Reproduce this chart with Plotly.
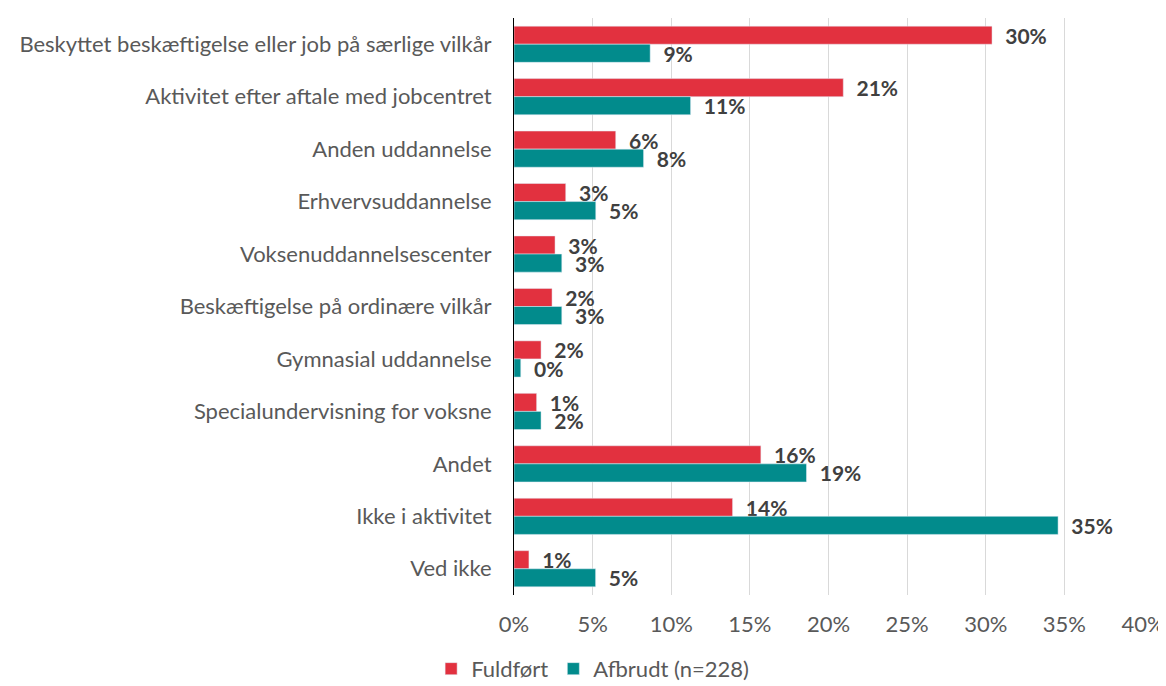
import plotly.graph_objects as go

categories = [
    "Beskyttet beskæftigelse eller job på særlige vilkår",
    "Aktivitet efter aftale med jobcentret",
    "Anden uddannelse",
    "Erhvervsuddannelse",
    "Voksenuddannelsescenter",
    "Beskæftigelse på ordinære vilkår",
    "Gymnasial uddannelse",
    "Specialundervisning for voksne",
    "Andet",
    "Ikke i aktivitet",
    "Ved ikke",
]
fuldfoert = [0.304, 0.2094, 0.0647, 0.0329, 0.0261, 0.0242, 0.0172, 0.0144, 0.157, 0.139, 0.0095]
afbrudt = [0.0866, 0.1123, 0.0824, 0.052, 0.0304, 0.0304, 0.0043, 0.0172, 0.186, 0.346, 0.0519]
x_ticks = [0, 0.05, 0.10, 0.15, 0.20, 0.25, 0.30, 0.35, 0.40]
x_tick_labels = ["0%", "5%", "10%", "15%", "20%", "25%", "30%", "35%", "40%"]

FONT = "Lato"
SIZE = 22
label_font = dict(family=FONT, size=21, color="#404040", weight="bold")

fig = go.Figure()
fig.add_trace(go.Bar(
    y=categories, x=fuldfoert, orientation="h", name="Fuldført",
    marker=dict(color="#E2313F"),
    texttemplate="  %{x:.0%}", textposition="outside", textfont=label_font,
    constraintext="none", cliponaxis=False,
))
fig.add_trace(go.Bar(
    y=categories, x=afbrudt, orientation="h", name="Afbrudt (n=228)",
    marker=dict(color="#028B8C"),
    texttemplate="  %{x:.0%}", textposition="outside", textfont=label_font,
    constraintext="none", cliponaxis=False,
))

# the page body has an 8px margin, so the figure is sized to fit the window
fig.update_layout(
    width=1158, height=678,
    margin=dict(l=506, r=23, t=10, b=91, autoexpand=False),
    barmode="group", bargap=0.31, bargroupgap=0,
    plot_bgcolor="white", paper_bgcolor="white",
    font=dict(family=FONT, size=SIZE, color="#595959"),
    showlegend=True,
    legend=dict(orientation="h", x=0.125, xanchor="center", y=-0.128, yanchor="middle",
                font=dict(family=FONT, size=SIZE, color="#595959"), traceorder="normal"),
)
fig.update_xaxes(
    range=[0, 0.40], tickvals=x_ticks, ticktext=x_tick_labels,
    showgrid=True, gridcolor="#D9D9D9", gridwidth=1, zeroline=False,
    showline=False, ticks="", ticklabelstandoff=14, automargin=False,
    tickfont=dict(family=FONT, size=SIZE, color="#595959"),
)
fig.update_yaxes(
    autorange="reversed", showline=True, linecolor="black", linewidth=1,
    ticks="", ticklabelstandoff=17, showgrid=False, automargin=False,
    tickfont=dict(family=FONT, size=SIZE, color="#595959"),
)

fig.write_html("out.html")
